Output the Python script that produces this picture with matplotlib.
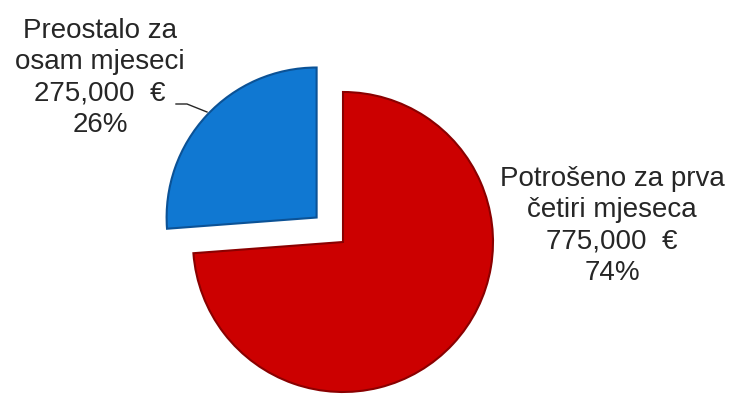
import matplotlib.pyplot as plt

# data
categories = ['Potrošeno za prva\nčetiri mjeseca', 'Preostalo za\nosam mjeseci']
amounts_eur = [775000, 275000]
colors = ['#CC0000', '#1078D2']
edge_colors = ['#8A0000', '#0B5296']

W, H = 730, 394
fig = plt.figure(figsize=(W / 100, H / 100), dpi=100)
ax = fig.add_axes([0, 0, 1, 1])

# pie in pixel units: centre (343, 242) from top, radius 150
# (explode is not scaled by radius, so it is in pixels here)
wedges, _ = ax.pie(amounts_eur, colors=colors, explode=[0, 36],
                   startangle=90, counterclock=False,
                   center=(343, H - 242), radius=150,
                   wedgeprops=dict(linewidth=1.5))
for w, ec in zip(wedges, edge_colors):
    w.set_edgecolor(ec)

# pie() resets limits, so set them afterwards
ax.set_xlim(0, W)
ax.set_ylim(0, H)
ax.set_aspect('equal')
ax.axis('off')

total = sum(amounts_eur)
labels = []
for name, val in zip(categories, amounts_eur):
    pct = round(100 * val / total)
    labels.append(f"{name}\n{val:,}  €\n{pct}%")

txt = dict(fontsize=20, family='Liberation Sans', color='#262626',
           ha='center', va='center', linespacing=1.28)
ax.text(612, H - 226, labels[0], **txt)
ax.text(100, H - 78, labels[1], **txt)

# leader line for the blue label
ax.plot([176, 187, 207], [H - 104, H - 104, H - 112], color='#262626', lw=1)

fig.savefig('out.png', dpi=100)
